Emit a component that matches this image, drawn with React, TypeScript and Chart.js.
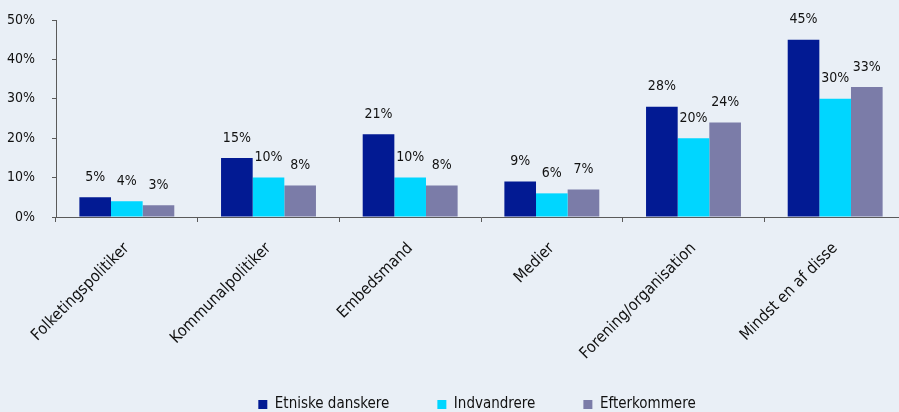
import React, { useEffect, useRef } from "react";
import { Chart, registerables } from "chart.js";

Chart.register(...registerables);

const categories = [
  "Folketingspolitiker",
  "Kommunalpolitiker",
  "Embedsmand",
  "Medier",
  "Forening/organisation",
  "Mindst en af disse",
];
const seriesNames = ["Etniske danskere", "Indvandrere", "Efterkommere"];
const etniskeDanskere = [5, 15, 21, 9, 28, 45];
const indvandrere = [4, 10, 10, 6, 20, 30];
const efterkommere = [3, 8, 8, 7, 24, 33];
const yTickValues = [0, 10, 20, 30, 40, 50];

const FONT = '"DejaVu Sans Condensed", "DejaVu Sans", sans-serif';
const BG = "#E9EFF6";
const AXIS = "#5a5a5a";
const TEXT = "#111111";

const dataLabelPlugin = {
  id: "dataLabels",
  afterDatasetsDraw(chart: any) {
    const ctx = chart.ctx;
    ctx.save();
    ctx.font = `14px ${FONT}`;
    ctx.fillStyle = TEXT;
    ctx.textAlign = "center";
    ctx.textBaseline = "middle";
    chart.data.datasets.forEach((ds: any, di: number) => {
      const meta = chart.getDatasetMeta(di);
      meta.data.forEach((bar: any, i: number) => {
        ctx.fillText(ds.data[i] + "%", bar.x, bar.y - 20);
      });
    });
    ctx.restore();
  },
};

const layoutTweakPlugin = {
  id: "layoutTweak",
  afterLayout(chart: any) {
    const lg = chart.legend;
    if (lg) {
      lg.left += 48;
    }
    const xs = chart.scales.x;
    if (xs) {
      xs.bottom = chart.height;
    }
  },
};

export default function App() {
  const ref = useRef<HTMLCanvasElement | null>(null);

  useEffect(() => {
    document.documentElement.style.overflow = "hidden";
    document.body.style.overflow = "hidden";
    document.body.style.background = BG;
    const canvas = ref.current;
    if (!canvas) return;
    const chart = new Chart(canvas, {
      type: "bar",
      data: {
        labels: categories,
        datasets: [
          { label: seriesNames[0], data: etniskeDanskere, backgroundColor: "#021A93" },
          { label: seriesNames[1], data: indvandrere, backgroundColor: "#00D6FF" },
          { label: seriesNames[2], data: efterkommere, backgroundColor: "#7B7CA8" },
        ],
      },
      options: {
        animation: false,
        responsive: false,
        maintainAspectRatio: false,
        layout: { padding: { top: 20, left: 0, right: 0, bottom: 0 } },
        datasets: { bar: { categoryPercentage: 0.67, barPercentage: 1.0 } },
        scales: {
          x: {
            grid: {
              display: true,
              offset: true,
              drawOnChartArea: false,
              drawTicks: true,
              tickLength: 5,
              color: AXIS,
            },
            border: { display: true, color: AXIS, width: 1 },
            ticks: {
              maxRotation: 45,
              minRotation: 45,
              autoSkip: false,
              color: TEXT,
              font: { family: FONT, size: 16 },
              padding: 17,
            },
            afterFit(scale: any) {
              scale.height = 132;
              scale.paddingLeft = 0;
              scale.paddingRight = 0;
            },
          },
          y: {
            min: 0,
            max: 50,
            afterBuildTicks(scale: any) {
              scale.ticks = yTickValues.map((v) => ({ value: v }));
            },
            grid: {
              display: true,
              drawOnChartArea: false,
              drawTicks: true,
              tickLength: 4,
              color: AXIS,
            },
            border: { display: true, color: AXIS, width: 1 },
            ticks: {
              color: TEXT,
              font: { family: FONT, size: 14 },
              padding: 17,
              callback: (v: any) => v + "%",
            },
            afterFit(scale: any) {
              scale.width = 56;
              scale.paddingTop = 0;
              scale.paddingBottom = 0;
            },
          },
        },
        plugins: {
          legend: {
            display: true,
            position: "bottom",
            labels: {
              color: TEXT,
              font: { family: FONT, size: 15 },
              boxWidth: 9,
              boxHeight: 9,
              padding: 48,
            },
          },
          tooltip: { enabled: false },
        },
      },
      plugins: [dataLabelPlugin, layoutTweakPlugin],
    });
    return () => chart.destroy();
  }, []);

  return (
    <div style={{ position: "fixed", left: 0, top: 0, width: 906, height: 422, background: BG }}>
      <canvas ref={ref} width={906} height={422} style={{ width: 906, height: 422, display: "block" }} />
    </div>
  );
}
